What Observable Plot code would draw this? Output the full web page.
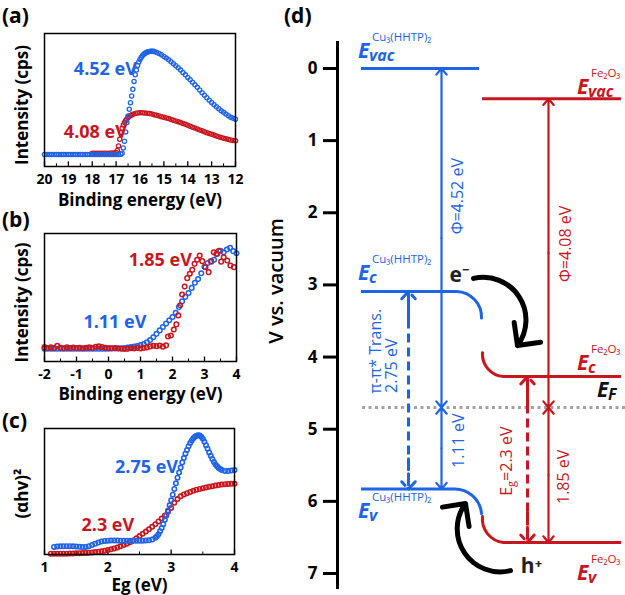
<!DOCTYPE html>
<html><head><meta charset="utf-8">
<script src="https://cdn.jsdelivr.net/npm/d3@7"></script>
<script src="https://cdn.jsdelivr.net/npm/@observablehq/plot@0.6"></script>
<style>
body{margin:0;background:#fff;}
#wrap{position:relative;width:625px;height:595px;overflow:hidden;background:#fff;font-family:"Open Sans","Noto Sans",sans-serif;}
.panel{position:absolute;font-weight:bold;font-size:21px;line-height:1.15;color:#000;}
</style></head><body><div id="wrap"></div>
<script>
// ---------- DATA ----------
// (a) UPS secondary-electron cutoff: [binding energy (eV), intensity (a.u.)]
const aBlue = [[20,9],[19.9,9],[19.8,9],[19.7,9],[19.6,9],[19.5,9],[19.4,9],[19.3,9],[19.2,9],[19.1,9],[19,9],[18.9,9],[18.8,9],[18.7,9],[18.6,9],[18.5,9],[18.4,9],[18.3,9],[18.2,9],[18.1,9],[18,9],[17.9,9],[17.8,9],[17.7,9],[17.6,9],[17.5,9],[17.4,9],[17.3,9],[17.2,9],[17.1,9],[17,9],[16.9,9],[16.8,9.2],
[16.75,10],[16.7,14],[16.65,19],[16.6,26],[16.55,33],[16.5,38],[16.45,43],[16.4,48],[16.35,53],[16.3,58],[16.25,64],[16.2,69],[16.15,72.5],[16.1,76],[16.05,78.5],[16,80.5],[15.95,82],[15.9,83.3],[15.85,84.3],[15.8,85],[15.75,85.6],[15.7,86],[15.65,86.3],[15.6,86.5],[15.55,86.7],[15.5,86.7],[15.45,86.6],[15.4,86.4],
[15.3,85.8],[15.2,85],[15.1,84],[15,82.8],[14.9,81.5],[14.8,80.2],[14.7,78.8],[14.6,77.3],[14.5,75.8],[14.4,74.2],[14.3,72.5],[14.2,70.7],[14.1,68.9],[14,67],[13.9,65.2],[13.8,63.3],[13.7,61.4],[13.6,59.5],[13.5,57.5],[13.4,55.5],[13.3,53.6],[13.2,51.7],[13.1,49.9],[13,48.2],[12.9,46.5],[12.8,44.9],[12.7,43.4],[12.6,42],[12.5,40.7],[12.4,39.4],[12.3,38.2],[12.2,37.1],[12.1,36.2],[12,35.5]];
const aRed = [[18,10],[17.9,10],[17.8,10],[17.7,10],[17.6,10],[17.5,10],[17.4,10],[17.3,10],[17.2,10.1],[17.1,10.2],[17,10.5],[16.95,12],[16.9,15.5],[16.85,20.5],[16.8,25.5],[16.75,28.8],[16.7,31.2],[16.65,33],[16.6,34.6],[16.55,35.8],[16.5,36.8],[16.45,37.6],[16.4,38.3],[16.35,38.8],[16.3,39.3],[16.2,39.8],[16.1,40.2],[16,40.4],[15.9,40.4],[15.8,40.3],[15.7,40.1],[15.6,39.8],[15.5,39.4],[15.4,39],[15.3,38.5],[15.2,38],[15.1,37.5],[15,37],[14.9,36.5],[14.8,36],[14.7,35.4],[14.6,34.8],[14.5,34.2],[14.4,33.6],[14.3,33],[14.2,32.3],[14.1,31.7],[14,31],[13.9,30.3],[13.8,29.6],[13.7,28.9],[13.6,28.2],[13.5,27.5],[13.4,26.8],[13.3,26.1],[13.2,25.4],[13.1,24.8],[13,24.2],[12.9,23.6],[12.8,23],[12.7,22.4],[12.6,21.8],[12.5,21.3],[12.4,20.8],[12.3,20.3],[12.2,19.9],[12.1,19.6],[12,19.3]];
const aTicks = [20,19,18,17,16,15,14,13,12];
const aMinor = [19.5,18.5,17.5,16.5,15.5,14.5,13.5,12.5];

// (b) valence-band edge
const bBlue = [[-2,10],[-1.9,10],[-1.8,10],[-1.7,10],[-1.6,10],[-1.5,10],[-1.4,10],[-1.3,10],[-1.2,10],[-1.1,10],[-1,10],[-0.9,10],[-0.8,10],[-0.7,10],[-0.6,10],[-0.5,10],[-0.4,10],[-0.3,10],[-0.2,10],[-0.1,10],[0,10],[0.1,10.1],[0.2,10.2],[0.3,10.3],[0.4,10.4],[0.5,10.6],[0.6,10.9],[0.7,11.2],[0.8,11.6],[0.9,12.1],[1,12.8],[1.1,13.6],[1.2,15],[1.3,16.8],[1.4,19],[1.5,21.6],[1.6,24.3],[1.7,27],[1.8,29.6],[1.9,32.2],[2,34.8],[2.1,38],[2.2,42.5],[2.3,47],[2.4,50.5],[2.5,53.5],[2.6,57.5],[2.7,61.5],[2.8,64.5],[2.9,69],[3,74],[3.1,77],[3.2,78.4],[3.3,79.5],[3.4,84],[3.5,86.5],[3.6,85.4],[3.7,87.5],[3.8,88.8],[3.9,86.2],[4,84.6]];
const bRed = [[-2,11.2],[-1.9,10.5],[-1.8,11],[-1.7,10.6],[-1.6,12.3],[-1.5,10.8],[-1.4,10.4],[-1.3,11],[-1.2,10.6],[-1.1,10.9],[-1,10.5],[-0.9,10.7],[-0.8,10.4],[-0.7,10.8],[-0.6,11],[-0.5,10.6],[-0.4,11.5],[-0.3,11.8],[-0.2,11.2],[-0.1,10.7],[0,10.5],[0.1,10.3],[0.2,10.6],[0.3,10.2],[0.4,10],[0.5,9.8],[0.6,9.9],[0.7,10.3],[0.8,10.1],[0.9,10.5],[1,10.2],[1.1,10.6],[1.2,10.9],[1.3,11.8],[1.4,12.3],[1.5,12],[1.6,12.5],[1.7,11.6],[1.8,12.6],[1.86,19.5],[1.95,20.3],[2.04,25],[2.12,29],[2.18,36],[2.24,44],[2.3,52.3],[2.38,58.6],[2.46,65.1],[2.54,68.5],[2.62,71.6],[2.69,76.3],[2.77,79.5],[2.85,82.8],[2.93,78.4],[3.03,73.7],[3.13,69.8],[3.21,78],[3.29,85.4],[3.37,84],[3.45,86.5],[3.52,78],[3.6,81.5],[3.71,78.9],[3.81,75],[3.92,73.7]];
const bTicks = [-2,-1,0,1,2,3,4];
const bMinor = [-1.5,-0.5,0.5,1.5,2.5,3.5];

// (c) Tauc plot
const cBlue = [[1.15,6],[1.2,6.4],[1.25,6.5],[1.3,6.6],[1.35,6.6],[1.4,6.6],[1.45,6.5],[1.5,6.4],[1.55,6.1],[1.6,5.9],[1.65,6],[1.7,6.6],[1.75,7.5],[1.8,8.5],[1.85,9.5],[1.9,10.3],[1.95,10.8],[2,11],[2.05,11.1],[2.1,11.1],[2.15,11.1],[2.2,11],[2.25,11],[2.3,11],[2.35,11],[2.4,11],[2.45,11],[2.5,11],[2.55,11],[2.6,11.1],[2.65,11.3],[2.7,11.9],[2.75,13.2],[2.775,14.5],[2.8,16],[2.825,18.5],[2.85,21],[2.875,24],[2.9,27.5],[2.925,31],[2.95,35],[2.975,39],[3,43],[3.025,47.5],[3.05,52],[3.075,56.5],[3.1,61],[3.125,65],[3.15,69],[3.175,73],[3.2,76.5],[3.225,80],[3.25,83],[3.275,86],[3.3,88.5],[3.325,90.5],[3.35,92.3],[3.375,93.5],[3.4,94.3],[3.425,94.6],[3.45,94.4],[3.475,93.5],[3.5,91.8],[3.525,89.5],[3.55,86.8],[3.575,84],[3.6,81],[3.625,78.3],[3.65,75.8],[3.675,73.5],[3.7,71.5],[3.725,70],[3.75,68.7],[3.775,67.8],[3.8,67],[3.85,66.3],[3.9,66.2],[3.95,66.6],[4,67]];
const cRed = [[1.1,0.6],[1.15,0.6],[1.2,0.6],[1.25,0.6],[1.3,0.6],[1.35,0.6],[1.4,0.7],[1.45,0.8],[1.5,0.9],[1.55,1],[1.6,1.1],[1.65,1.2],[1.7,1.4],[1.75,1.6],[1.8,1.9],[1.85,2.2],[1.9,2.5],[1.95,2.9],[2,3.5],[2.05,4.1],[2.1,4.8],[2.15,5.6],[2.2,6.5],[2.25,7.5],[2.3,8.6],[2.35,9.8],[2.4,11.2],[2.45,12.8],[2.5,14.6],[2.55,16.4],[2.6,18.2],[2.65,20],[2.7,22],[2.75,24],[2.8,26.2],[2.85,28.5],[2.9,31],[2.95,34],[3,37],[3.05,41],[3.1,44],[3.15,46.2],[3.2,47.6],[3.25,48.6],[3.3,49.6],[3.35,50.5],[3.4,51.4],[3.45,52],[3.5,52.6],[3.55,53.2],[3.6,53.7],[3.65,54.2],[3.7,54.7],[3.75,55.1],[3.8,55.5],[3.85,55.8],[3.9,56],[3.95,56.1],[4,56.1]];
const cTicks = [1,2,3,4];
const cMinor = [1.5,2.5,3.5];

// (d) energy levels (eV below vacuum)
const levelKeys = ["vacCu","vacFe","cCu","vCu","cFe","vFe","F"];
const levelValues = [0, 0.42, 3.09, 5.83, 4.27, 6.57, 4.70];
const dTicks = [0,1,2,3,4,5,6,7];
const gapTexts = ["Φ=4.52 eV","Φ=4.08 eV","1.11 eV","1.85 eV","π-π* Trans.","2.75 eV"];

// ---------- STYLE / LAYOUT ----------
const BLUE = "#1f63e6", RED = "#c8161e";
const FONT = '"Open Sans","Noto Sans",sans-serif';
const E = Object.fromEntries(levelKeys.map((k,i)=>[k, levelValues[i]]));
const wrap = document.getElementById("wrap");
function place(node, left, top){ node.style.position="absolute"; node.style.left=left+"px"; node.style.top=top+"px"; wrap.appendChild(node); }
const svgStyle = {fontFamily: FONT, fontWeight: "bold", fontSize: "14px", background: "transparent", overflow: "visible", color: "#000"};

function spectrum(o){
  return Plot.plot({
    width:o.w, height:o.h, marginLeft:o.ml, marginRight:o.mr, marginTop:o.mt, marginBottom:o.mb,
    x:{domain:o.xDomain, axis:null}, y:{domain:[0,100], axis:null},
    style: svgStyle,
    marks:[
      Plot.ruleX(o.ticks, {x:d=>d, y1:0, y2:3.5, strokeWidth:1.3}),
      Plot.ruleX(o.minor, {x:d=>d, y1:0, y2:2, strokeWidth:1}),
      Plot.axisX({ticks:o.ticks, tickSize:0, tickPadding:8, tickFormat:d=>String(d), label:null, fontSize:14}),
      ...o.series.map(s => Plot.dot(s.data, {x:d=>d[0], y:d=>d[1], r:o.r, stroke:s.color, strokeWidth:o.sw, fill:"none"})),
      ...o.labels.map(l => Plot.text([l], {x:"x", y:"y", text:"t", fill:l.color, fontSize:18})),
      Plot.text([o.xTitle], {text:d=>d, frameAnchor:"bottom", lineAnchor:"middle", textAnchor:"middle", dy:o.xTitleDy, fontSize:17}),
      Plot.text([o.yTitle], {text:d=>d, frameAnchor:"left", lineAnchor:"middle", textAnchor:"middle", dx:-22, dy:o.yTitleDy, rotate:-90, fontSize:17}),
      Plot.frame({strokeWidth:1.5})
    ]
  });
}

place(spectrum({w:245,h:180,ml:44,mr:10,mt:3,mb:44,xDomain:[20,12],ticks:aTicks,minor:aMinor,r:2.1,sw:1.3,
  series:[{data:aRed,color:RED},{data:aBlue,color:BLUE}],
  labels:[{x:17.45,y:73.5,t:"4.52 eV",color:BLUE},{x:17.87,y:25.6,t:"4.08 eV",color:RED}],
  xTitle:"Binding energy (eV)", xTitleDy:34, yTitle:"Intensity (cps)", yTitleDy:5}), 0, 30);

place(spectrum({w:245,h:190,ml:44,mr:9,mt:18,mb:44,xDomain:[-2,4],ticks:bTicks,minor:bMinor,r:2.3,sw:1.5,
  series:[{data:bBlue,color:BLUE},{data:bRed,color:RED}],
  labels:[{x:1.62,y:79,t:"1.85 eV",color:RED},{x:0.2,y:30.5,t:"1.11 eV",color:BLUE}],
  xTitle:"Binding energy (eV)", xTitleDy:33, yTitle:"Intensity (cps)", yTitleDy:5}), 0, 215);

place(spectrum({w:245,h:185,ml:44,mr:11,mt:18,mb:41,xDomain:[1,4],ticks:cTicks,minor:cMinor,r:2.2,sw:1.6,
  series:[{data:cRed,color:RED},{data:cBlue,color:BLUE}],
  labels:[{x:2.61,y:69,t:"2.75 eV",color:BLUE},{x:2.0,y:23,t:"2.3 eV",color:RED}],
  xTitle:"Eg (eV)", xTitleDy:31, yTitle:"(αhv)²", yTitleDy:2}), 0, 410);

// ---- panel (d) layout (x in page pixels) ----
const cuLevels = [{y:E.vacCu,x1:361,x2:479},{y:E.cCu,x1:361,x2:456},{y:E.vCu,x1:361,x2:452}];
const feLevels = [{y:E.vacFe,x1:482,x2:621},{y:E.cFe,x1:503,x2:621},{y:E.vFe,x1:503,x2:621}];
const cwArcs = [{x1:456,y1:E.cCu,x2:481,y2:E.cCu+0.37},{x1:452,y1:E.vCu,x2:481,y2:E.vCu+0.34}];
const ccwArcs = [{x1:482,y1:E.cFe-0.33,x2:503,y2:E.cFe},{x1:482,y1:E.vFe-0.36,x2:503,y2:E.vFe}];
const solidArrows = [
  {x:441,a:E.vacCu,b:E.F,c:BLUE},{x:441,a:E.F,b:E.vCu,c:BLUE},
  {x:548,a:E.vacFe,b:E.F,c:RED},{x:548,a:E.F,b:E.vFe,c:RED}];
const dashArrows = [{x:408,a:E.cCu,b:E.vCu,c:BLUE},{x:527,a:E.cFe,b:E.vFe,c:RED}];
// double-headed arrows: each drawn as two half-arrows pointing outward
const halves = arr => arr.flatMap(d => [{x:d.x, from:(d.a+d.b)/2, to:d.a, c:d.c},{x:d.x, from:(d.a+d.b)/2, to:d.b, c:d.c}]);
const tips = arr => arr.flatMap(d => [{x:d.x, from:d.a+0.42, to:d.a, c:d.c},{x:d.x, from:d.b-0.42, to:d.b, c:d.c}]);
const vLabels = [
  {x:457,y:1.77,t:gapTexts[0],c:BLUE,s:"normal"},{x:565,y:2.43,t:gapTexts[1],c:RED,s:"normal"},
  {x:458,y:5.16,t:gapTexts[2],c:BLUE,s:"normal"},{x:563,y:5.66,t:gapTexts[3],c:RED,s:"normal"},
  {x:375,y:3.92,t:gapTexts[4],c:BLUE,s:"italic"},{x:391,y:4.12,t:gapTexts[5],c:BLUE,s:"normal"}];
const carriers = [{x:459,y:2.87,t:"e⁻"},{x:531,y:6.9,t:"h⁺"}];
const carrierArrows = [{x1:473,y1:2.91,x2:517,y2:3.84},{x1:510,y1:6.96,x2:465,y2:6.03}];
const levelLabels = [
  {level:"vacCu",x:358,dy:-10,sub:"vac",sup:"Cu₃(HHTP)₂",color:BLUE},
  {level:"vacFe",x:577,dy:-4,sub:"vac",sup:"Fe₂O₃",color:RED},
  {level:"cCu",x:358,dy:-11,sub:"c",sup:"Cu₃(HHTP)₂",color:BLUE},
  {level:"cFe",x:577,dy:-6,sub:"c",sup:"Fe₂O₃",color:RED},
  {level:"vCu",x:358,dy:29,sub:"v",sup:"Cu₃(HHTP)₂",color:BLUE},
  {level:"vFe",x:577,dy:38,sub:"v",sup:"Fe₂O₃",color:RED},
  {level:"F",x:597,dy:-10,sub:"F",sup:"",color:"#111"}];

function richLabels(index, scales){
  const ns="http://www.w3.org/2000/svg";
  const g=document.createElementNS(ns,"g");
  const add=(x,y,txt,size,style,weight,color)=>{
    const t=document.createElementNS(ns,"text");
    t.setAttribute("x",x); t.setAttribute("y",y);
    t.setAttribute("font-size",size); t.setAttribute("font-style",style); t.setAttribute("font-weight",weight);
    t.setAttribute("text-anchor","start"); t.setAttribute("fill",color); t.textContent=txt; g.appendChild(t);
  };
  for(const L of levelLabels){
    const x=scales.x(L.x), y=scales.y(E[L.level])+L.dy;
    add(x,y,"E",21,"italic","bold",L.color);
    add(x+11,y+3,L.sub,16,"italic","bold",L.color);
    if(L.sup) add(x+14,y-17,L.sup,11.5,"normal","normal",L.color);
  }
  // rotated E_g label
  const t=document.createElementNS(ns,"text");
  t.setAttribute("transform",`translate(${scales.x(508)},${scales.y(5.45)}) rotate(-90)`);
  t.setAttribute("text-anchor","middle"); t.setAttribute("dominant-baseline","middle"); t.setAttribute("fill",RED);
  t.setAttribute("font-size",16); t.setAttribute("font-weight","normal");
  const s1=document.createElementNS(ns,"tspan"); s1.textContent="E";
  const s2=document.createElementNS(ns,"tspan"); s2.textContent="g"; s2.setAttribute("font-size",11); s2.setAttribute("dy",4);
  const s3=document.createElementNS(ns,"tspan"); s3.textContent="=2.3 eV"; s3.setAttribute("dy",-4);
  t.append(s1,s2,s3); g.appendChild(t);
  return g;
}

const plotD = Plot.plot({
  width:375, height:595, marginLeft:87, marginRight:0, marginTop:42, marginBottom:8,
  x:{domain:[337,625], axis:null}, y:{domain:[-0.36,7.194], reverse:true, axis:null},
  style:{...svgStyle, fontSize:"17px"},
  marks:[
    Plot.frame({anchor:"left", strokeWidth:3}),
    Plot.axisY({ticks:dTicks, tickSize:14, tickPadding:6, strokeWidth:3, tickFormat:d=>String(d), label:null, fontSize:17}),
    Plot.text(["V vs. vacuum"], {text:d=>d, frameAnchor:"left", textAnchor:"middle", lineAnchor:"middle", dx:-61, dy:-34, rotate:-90, fontSize:20, fontWeight:600}),
    Plot.ruleY([E.F], {y:d=>d, x1:362, x2:625, stroke:"#a3a3a3", strokeWidth:3, strokeDasharray:"3,3.5"}),
    Plot.ruleY(cuLevels, {y:"y", x1:"x1", x2:"x2", stroke:BLUE, strokeWidth:3}),
    Plot.ruleY(feLevels, {y:"y", x1:"x1", x2:"x2", stroke:RED, strokeWidth:3}),
    Plot.arrow(cwArcs, {x1:"x1",y1:"y1",x2:"x2",y2:"y2", bend:45, headLength:0, stroke:BLUE, strokeWidth:3}),
    Plot.arrow(ccwArcs, {x1:"x1",y1:"y1",x2:"x2",y2:"y2", bend:-45, headLength:0, stroke:RED, strokeWidth:3}),
    Plot.arrow(halves(solidArrows), {x:"x", y1:"from", y2:"to", stroke:"c", strokeWidth:2.2, headLength:5.5, headAngle:80}),
    Plot.link(dashArrows, {x1:"x",x2:"x",y1:"a",y2:"b", stroke:"c", strokeWidth:3, strokeDasharray:"9,5"}),
    Plot.arrow(tips(dashArrows), {x:"x", y1:"from", y2:"to", stroke:"c", strokeWidth:3, headLength:5, headAngle:85, strokeDasharray:"11,4"}),
    Plot.arrow(carrierArrows, {x1:"x1",y1:"y1",x2:"x2",y2:"y2", bend:70, headLength:7, headAngle:90, stroke:"#000", strokeWidth:5}),
    Plot.text(vLabels, {x:"x", y:"y", text:"t", fill:"c", fontStyle:"s", rotate:-90, fontSize:16, fontWeight:"normal"}),
    Plot.text(carriers, {x:"x", y:"y", text:"t", fill:"#222", fontSize:21, fontWeight:"bold"}),
    richLabels
  ]
});
place(plotD, 250, 0);

// panel letters
[["(a)",2,3],["(b)",2,207],["(c)",2,408],["(d)",284,3]].forEach(([t,l,tp])=>{
  const d=document.createElement("div"); d.className="panel"; d.textContent=t; place(d,l,tp);
});
</script></body></html>
